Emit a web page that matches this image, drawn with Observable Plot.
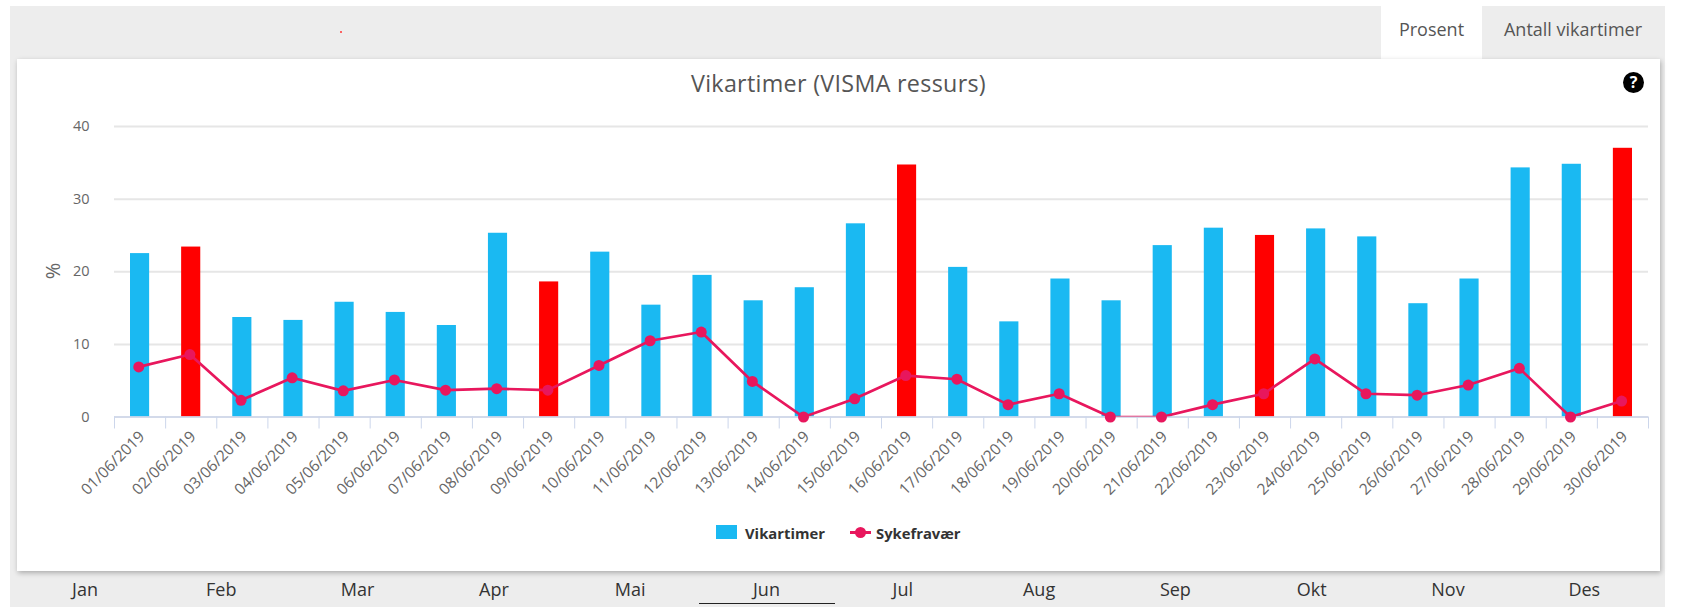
<!DOCTYPE html>
<html><head><meta charset="utf-8">
<script src="https://cdn.jsdelivr.net/npm/d3@7"></script>
<script src="https://cdn.jsdelivr.net/npm/@observablehq/plot@0.6"></script>
<style>
html,body{margin:0;padding:0;background:#fff;width:1683px;height:607px;overflow:hidden;font-family:"Open Sans",sans-serif}
#bg{position:absolute;left:10px;top:6px;width:1655px;height:601px;background:#ededed}
#card{position:absolute;left:17px;top:59px;width:1643px;height:512px;background:#fff;box-shadow:1px 2px 5px rgba(0,0,0,.28)}
.tab{position:absolute;top:6px;height:53px;line-height:47px;text-align:center;font-size:18px;color:#555}
#t1{left:1381px;width:101px;background:#fff}
#t2{left:1482px;width:182px;background:#ededed}
#dot{position:absolute;left:340px;top:31px;width:2px;height:2px;border-radius:50%;background:#f33}
#title{position:absolute;left:17px;width:1643px;top:67px;text-align:center;font-size:23.3px;line-height:32px;color:#555;letter-spacing:.3px}
#help{position:absolute;left:1623px;top:72px;width:21px;height:21px;border-radius:50%;background:#000;color:#fff;font:bold 16px/21px "Open Sans",sans-serif;text-align:center}
#ylab{position:absolute;left:42px;top:258px;width:22px;height:26px;line-height:26px;text-align:center;font-size:20px;color:#666;transform:rotate(-90deg)}
#plot{position:absolute;left:0;top:0}
#plot svg{background:transparent}
.leg{position:absolute;top:523px;font-size:14.8px;font-weight:700;line-height:20px;color:#333}
#s1{position:absolute;left:716px;top:525px;width:21px;height:14px;background:#1ab9f2}
#s2{position:absolute;left:850px;top:531px;width:21px;height:2.5px;background:#e8175d}
#s3{position:absolute;left:855px;top:527px;width:11px;height:11px;border-radius:50%;background:#e8175d}
.m{position:absolute;top:577px;width:136px;text-align:center;font-size:18px;line-height:24px;color:#333}
#u{position:absolute;left:699px;top:603px;width:136px;height:1px;background:#222}
</style></head><body>
<div id="bg"></div><div id="dot"></div>
<div id="t1" class="tab">Prosent</div><div id="t2" class="tab">Antall vikartimer</div>
<div id="card"></div>
<div id="title">Vikartimer (VISMA ressurs)</div>
<div id="help">?</div>
<div id="ylab">%</div>
<div id="plot"></div>
<div id="s1"></div><div class="leg" style="left:745px">Vikartimer</div>
<div id="s2"></div><div id="s3"></div><div class="leg" style="left:876px">Sykefravær</div>
<div id="months"></div><div id="u"></div>
<script>
const dates = ["01/06/2019","02/06/2019","03/06/2019","04/06/2019","05/06/2019","06/06/2019","07/06/2019","08/06/2019","09/06/2019","10/06/2019","11/06/2019","12/06/2019","13/06/2019","14/06/2019","15/06/2019","16/06/2019","17/06/2019","18/06/2019","19/06/2019","20/06/2019","21/06/2019","22/06/2019","23/06/2019","24/06/2019","25/06/2019","26/06/2019","27/06/2019","28/06/2019","29/06/2019","30/06/2019"];
const vikartimer = [22.5,23.4,13.7,13.3,15.8,14.4,12.6,25.3,18.6,22.7,15.4,19.5,16,17.8,26.6,34.7,20.6,13.1,19,16,23.6,26,25,25.9,24.8,15.6,19,34.3,34.8,37];
const sykefravaer = [6.9,8.6,2.3,5.4,3.6,5.1,3.7,3.9,3.7,7.1,10.5,11.7,4.9,0,2.5,5.7,5.2,1.7,3.2,0,0,1.7,3.2,8,3.2,3,4.4,6.7,0,2.2];
const sundays = ["02/06/2019","09/06/2019","16/06/2019","23/06/2019","30/06/2019"];
const months = ["Jan","Feb","Mar","Apr","Mai","Jun","Jul","Aug","Sep","Okt","Nov","Des"];
const yTicks = [0,10,20,30,40];

const rows = dates.map((date,i)=>({date,day:i+1,vik:vikartimer[i],syk:sykefravaer[i],sun:sundays.includes(date)}));
const days = rows.map(d=>d.day);
const edges = d3.range(0.5,31,1);

document.getElementById("plot").append(Plot.plot({
  width:1683,height:607,marginLeft:114,marginRight:35,marginTop:126,marginBottom:190.5,
  style:{background:"transparent",fontFamily:"'Open Sans',sans-serif",overflow:"visible"},
  x:{type:"linear",domain:[0.5,30.5]},
  y:{domain:[0,40]},
  marks:[
    Plot.gridY(yTicks,{stroke:"#e6e6e6",strokeOpacity:1,strokeWidth:2}),
    Plot.rectY(rows,{x1:d=>d.day-.5,x2:d=>d.day+.5,y:"vik",insetLeft:16,insetRight:16,fill:d=>d.sun?"#ff0000":"#1ab9f2"}),
    Plot.ruleY([0],{stroke:"#ccd6eb",strokeWidth:1.5}),
    Plot.axisX({ticks:edges,tickFormat:()=>"",tickSize:12,stroke:"#ccd6eb",label:null}),
    Plot.axisX({ticks:days,tickFormat:d=>dates[d-1],tickRotate:-45,tickSize:0,tickPadding:17,dx:2,fontSize:15.5,fill:"#666",label:null}),
    Plot.axisY({ticks:yTicks,tickSize:0,tickPadding:25,fontSize:14.5,fill:"#666",label:null}),
    Plot.lineY(rows,{x:"day",y:"syk",dx:-1.3,stroke:"#e8175d",strokeWidth:2.7,curve:"linear",clip:true}),
    Plot.dot(rows,{x:"day",y:"syk",dx:-1.3,r:5.5,fill:"#e8175d"})
  ]
}));
const host=document.getElementById("months");
months.forEach((m,i)=>{const e=document.createElement("div");e.className="m";e.textContent=m;e.style.left=(17+i*136.3)+"px";host.append(e)});
</script></body></html>
